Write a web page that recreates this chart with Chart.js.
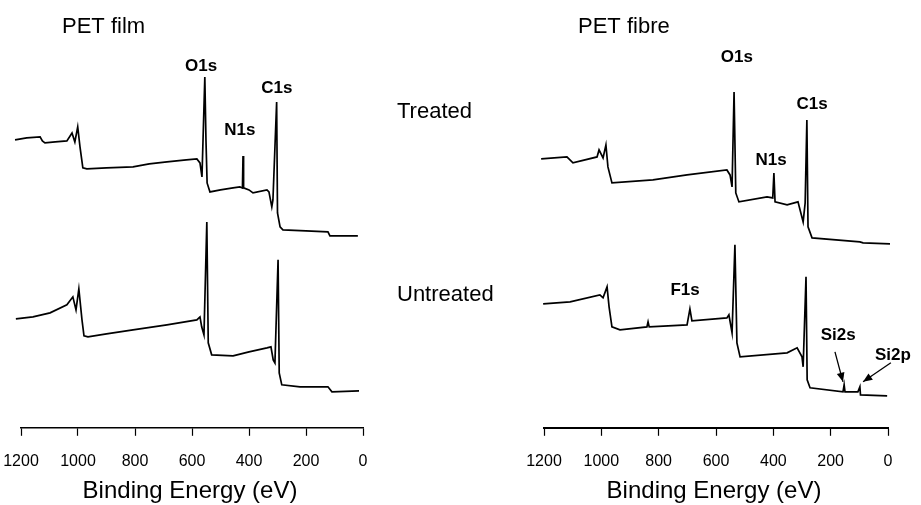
<!DOCTYPE html>
<html>
<head>
<meta charset="utf-8">
<script src="https://cdn.jsdelivr.net/npm/chart.js@4.4.1/dist/chart.umd.min.js"></script>
<style>
    html, body { margin: 0; padding: 0; background: #fff; overflow: hidden; }
    #filmChart { position: absolute; left: 0; top: 0; }
    #fibreChart { position: absolute; left: 520px; top: 0; }
</style>
</head>
<body>
<canvas id="filmChart" width="520" height="505"></canvas>
<canvas id="fibreChart" width="401" height="505"></canvas>
<script>
// XPS survey spectra, binding energy (eV) against intensity (a.u., spectra stacked)
const energyTicks = [0, 200, 400, 600, 800, 1000, 1200];

const filmTreatedEnergy = [1221, 1180, 1133, 1125, 1116, 1080, 1039, 1021, 1011, 1001, 993, 983, 969, 900, 807, 750, 688, 620, 583, 572, 565, 555, 551, 547, 537, 500, 456, 432, 423, 421, 419, 400, 386, 337, 330, 320, 316, 303, 300, 291, 281, 200, 123, 116, 18];
const filmTreatedCounts = [288, 290, 291, 287, 285, 286, 287, 295, 286, 301, 281, 260, 259, 260, 261, 264, 266, 268, 269, 265, 251, 351, 288, 245, 236, 238, 240, 241, 240, 272, 240, 238, 235, 238, 236, 221, 228, 326, 215, 201, 198, 197, 196, 192, 192];

const filmUntreatedEnergy = [1218, 1158, 1098, 1039, 1018, 1007, 997, 986, 979, 965, 900, 807, 688, 583, 572, 566, 558, 548, 543, 531, 456, 400, 337, 323, 315, 309, 298, 294, 285, 221, 123, 109, 14];
const filmUntreatedCounts = [109, 111, 115, 123, 131, 118, 139, 108, 92, 91, 94, 98, 103, 108, 111, 101, 93, 206, 85, 73, 72, 76, 80, 81, 68, 65, 168, 55, 43, 41, 41, 36, 37];

const fibreTreatedEnergy = [1210, 1120, 1099, 1015, 1008, 994, 984, 977, 963, 820, 701, 562, 551, 544, 537, 531, 520, 422, 402, 398, 394, 352, 314, 296, 289, 283, 279, 265, 98, 87, -7];
const fibreTreatedCounts = [269, 271, 265, 271, 278, 270, 283, 261, 245, 248, 253, 258, 253, 241, 336, 235, 226, 231, 230, 255, 226, 223, 226, 206, 225, 308, 201, 190, 186, 185, 184];

const fibreUntreatedEnergy = [1203, 1109, 1005, 994, 980, 973, 963, 935, 841, 837, 833, 701, 691, 684, 562, 555, 544, 534, 527, 516, 352, 317, 300, 296, 286, 282, 272, 157, 153, 150, 105, 98, 96, 3];
const fibreUntreatedCounts = [124, 126, 133, 130, 141, 121, 101, 98, 101, 106, 101, 103, 119, 107, 110, 113, 95, 183, 85, 71, 75, 80, 71, 61, 151, 48, 40, 36, 43, 36, 36, 41, 33, 32];

// peak labels, placed in data coordinates
const filmPeakNames = ['O1s', 'N1s', 'C1s'];
const filmPeakEnergy = [568, 432, 302];
const filmPeakLabelY = [362, 298, 340];

const fibrePeakNames = ['O1s', 'N1s', 'C1s', 'F1s', 'Si2s', 'Si2p'];
const fibrePeakEnergy = [527, 408, 265, 708, 174, -17];
const fibrePeakLabelY = [371, 268, 324, 138, 93, 73];

// arrows to the Si peaks: [fromEnergy, fromY, toEnergy, toY]
const fibreArrows = [[185, 76, 157, 46], [-10, 65, 87, 46]];

const FONT = '"Liberation Sans", Arial, sans-serif';
Chart.defaults.font.family = FONT;
Chart.defaults.color = '#000';

function toPoints(xs, ys) {
    return xs.map((x, i) => ({ x: x, y: ys[i] }));
}

const spectrumText = {
    id: 'spectrumText',
    afterDraw(chart, args, opts) {
        const ctx = chart.ctx;
        const xs = chart.scales.x;
        const ys = chart.scales.y;
        const area = chart.chartArea;
        ctx.save();
        ctx.fillStyle = '#000';
        ctx.strokeStyle = '#000';

        ctx.font = '22px ' + FONT;
        ctx.textAlign = 'left';
        ctx.textBaseline = 'middle';
        ctx.fillText(opts.title, opts.titleX, 27);
        (opts.sideLabels || []).forEach(l => ctx.fillText(l.text, l.x, l.y));

        ctx.font = '24px ' + FONT;
        ctx.textAlign = 'center';
        ctx.textBaseline = 'alphabetic';
        ctx.fillText('Binding Energy (eV)', (area.left + area.right) / 2 - 2, 498);

        ctx.font = 'bold 17px ' + FONT;
        ctx.textBaseline = 'middle';
        opts.names.forEach((n, i) => {
            ctx.fillText(n, xs.getPixelForValue(opts.energy[i]), ys.getPixelForValue(opts.labelY[i]));
        });

        ctx.lineWidth = 1.3;
        (opts.arrows || []).forEach(a => {
            const x1 = xs.getPixelForValue(a[0]), y1 = ys.getPixelForValue(a[1]);
            const x2 = xs.getPixelForValue(a[2]), y2 = ys.getPixelForValue(a[3]);
            const ang = Math.atan2(y2 - y1, x2 - x1);
            ctx.beginPath();
            ctx.moveTo(x1, y1);
            ctx.lineTo(x2, y2);
            ctx.stroke();
            ctx.beginPath();
            ctx.moveTo(x2, y2);
            ctx.lineTo(x2 - 10 * Math.cos(ang - 0.4), y2 - 10 * Math.sin(ang - 0.4));
            ctx.lineTo(x2 - 10 * Math.cos(ang + 0.4), y2 - 10 * Math.sin(ang + 0.4));
            ctx.closePath();
            ctx.fill();
        });
        ctx.restore();
    }
};

function makeChart(id, treated, untreated, padLeft, padRight, borderWidth, textOpts) {
    const ctx = document.getElementById(id).getContext('2d');
    return new Chart(ctx, {
        type: 'line',
        data: {
            datasets: [{
                label: 'Treated',
                data: treated,
                borderColor: '#000',
                borderWidth: 1.7,
                pointRadius: 0,
                tension: 0,
                clip: false
            }, {
                label: 'Untreated',
                data: untreated,
                borderColor: '#000',
                borderWidth: 1.7,
                pointRadius: 0,
                tension: 0,
                clip: false
            }]
        },
        options: {
            responsive: false,
            animation: false,
            layout: { padding: { left: padLeft, right: padRight, top: 20, bottom: 18 } },
            plugins: {
                legend: { display: false },
                tooltip: { enabled: false },
                spectrumText: textOpts
            },
            scales: {
                x: {
                    type: 'linear',
                    min: 0,
                    max: 1200,
                    reverse: true,
                    afterBuildTicks: scale => { scale.ticks = energyTicks.map(v => ({ value: v })); },
                    ticks: {
                        padding: 16,
                        font: { size: 16 },
                        callback: v => String(v)
                    },
                    grid: {
                        drawOnChartArea: false,
                        drawTicks: true,
                        tickLength: 8,
                        tickColor: '#000',
                        tickWidth: 1.2
                    },
                    border: { display: true, color: '#000', width: borderWidth }
                },
                y: {
                    display: false,
                    min: 0,
                    max: 408
                }
            }
        },
        plugins: [spectrumText]
    });
}

makeChart('filmChart',
    toPoints(filmTreatedEnergy, filmTreatedCounts),
    toPoints(filmUntreatedEnergy, filmUntreatedCounts),
    21, 157, 1.4, {
        title: 'PET film',
        titleX: 62,
        sideLabels: [{ text: 'Treated', x: 397, y: 112 }, { text: 'Untreated', x: 397, y: 295 }],
        names: filmPeakNames,
        energy: filmPeakEnergy,
        labelY: filmPeakLabelY
    });

makeChart('fibreChart',
    toPoints(fibreTreatedEnergy, fibreTreatedCounts),
    toPoints(fibreUntreatedEnergy, fibreUntreatedCounts),
    24, 33, 2, {
        title: 'PET fibre',
        titleX: 58,
        names: fibrePeakNames,
        energy: fibrePeakEnergy,
        labelY: fibrePeakLabelY,
        arrows: fibreArrows
    });
</script>
</body>
</html>
